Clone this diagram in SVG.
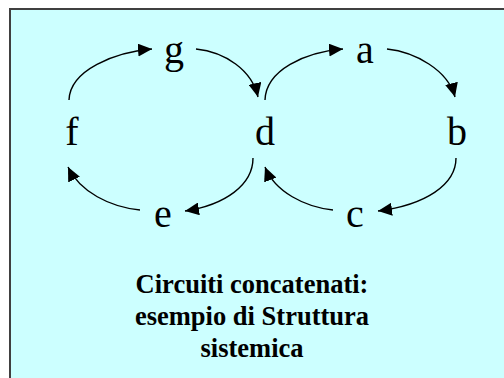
<svg xmlns="http://www.w3.org/2000/svg" width="504" height="378" viewBox="0 0 504 378">
<defs>
<style>
.n{font-family:"Liberation Serif","Times New Roman",serif;font-size:40px;fill:#000;text-anchor:middle}
.t{font-family:"Liberation Serif","Times New Roman",serif;font-size:26.5px;font-weight:bold;fill:#000;text-anchor:middle}
.e{fill:none;stroke:#000;stroke-width:1.4;marker-end:url(#ah)}
</style>
<marker id="ah" markerUnits="userSpaceOnUse" markerWidth="15" markerHeight="13" refX="14" refY="6.5" orient="auto">
<path d="M0,0 L14,6.5 L0,13 z" fill="#000"/>
</marker>
</defs>
<rect x="0" y="0" width="504" height="378" fill="#fff"/>
<rect x="10" y="9" width="500" height="380" fill="#CCFFFF" stroke="#404040" stroke-width="2"/>
<g id="connectors">
<path class="e" d="M69,100 C70,70 115,52 152,49"/>
<path class="e" d="M196,49 C225,52 252,70 258,97"/>
<path class="e" d="M265,100 C266,70 305,52 343,49"/>
<path class="e" d="M387,49 C415,52 448,70 455,97"/>
<path class="e" d="M456,158 C456,185 425,205 378,211"/>
<path class="e" d="M333,210 C305,207 275,192 265,167"/>
<path class="e" d="M253,158 C253,185 225,205 185,211"/>
<path class="e" d="M140,210 C110,207 80,192 68,167"/>
</g>
<g id="node-g"><text class="n" x="174" y="63">g</text></g>
<g id="node-a"><text class="n" x="365" y="63">a</text></g>
<g id="node-f"><text class="n" x="72" y="145">f</text></g>
<g id="node-d"><text class="n" x="265" y="145">d</text></g>
<g id="node-b"><text class="n" x="457" y="145">b</text></g>
<g id="node-e"><text class="n" x="163" y="227">e</text></g>
<g id="node-c"><text class="n" x="355" y="227">c</text></g>
<g id="caption">
<text class="t" x="252" y="293">Circuiti concatenati:</text>
<text class="t" x="252" y="325">esempio di Struttura</text>
<text class="t" x="252" y="357">sistemica</text>
</g>
</svg>
